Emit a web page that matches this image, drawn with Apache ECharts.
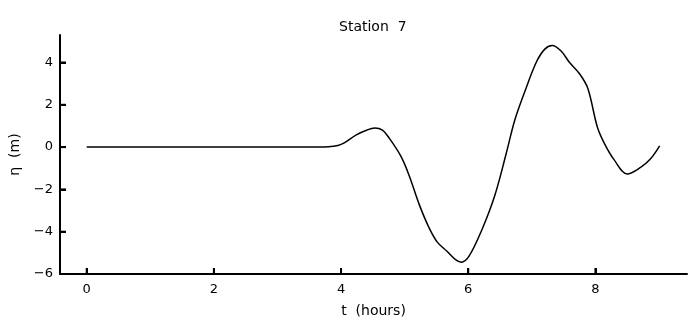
<!DOCTYPE html>
<html>
<head>
<meta charset="utf-8">
<script src="https://cdn.jsdelivr.net/npm/echarts@6/dist/echarts.min.js"></script>
<style>
    html, body { margin: 0; padding: 0; background: #fff; }
    #chart { width: 693px; height: 323px; }
</style>
</head>
<body>
<div id="chart"></div>
<script>
// time (hours) and elevation (m)
const tHours = [0, 1, 2, 3, 3.5, 3.8, 3.95, 4.05, 4.24, 4.4, 4.53, 4.65, 4.76, 4.94, 5.07, 5.23, 5.38, 5.51, 5.67, 5.8, 5.89, 6.01, 6.21, 6.42, 6.6, 6.73, 6.89, 7.07, 7.2, 7.32, 7.46, 7.59, 7.75, 7.88, 8.03, 8.14, 8.29, 8.5, 8.71, 8.86, 9.01]
const eta = [0, 0, 0, 0, 0, 0.02, 0.08, 0.2, 0.58, 0.8, 0.9, 0.8, 0.41, -0.43, -1.34, -2.72, -3.79, -4.48, -4.94, -5.32, -5.44, -5.17, -3.94, -2.26, -0.27, 1.26, 2.63, 4.01, 4.62, 4.8, 4.54, 4.01, 3.47, 2.78, 0.95, 0.18, -0.58, -1.27, -0.96, -0.58, 0.06]
const xTicks = [0, 2, 4, 6, 8]
const yTicks = [-6, -4, -2, 0, 2, 4]
const xRange = [-0.42, 9.44]
const yRange = [-6, 5.3]

const font = 'DejaVu Sans'
const ink = '#000'
const minus = v => String(v).replace('-', '\u2212')

const myChart = echarts.init(document.getElementById('chart'))

myChart.setOption({
    backgroundColor: '#fff',
    animation: false,
    title: {
        text: 'Station  7',
        left: 334,
        top: 15,
        textStyle: { fontFamily: font, fontSize: 14, fontWeight: 'normal', color: ink }
    },
    grid: { left: 54, right: 6, top: 35, bottom: 42 },
    xAxis: {
        type: 'value',
        min: xRange[0],
        max: xRange[1],
        name: 't  (hours)',
        nameLocation: 'middle',
        nameGap: 30,
        nameTextStyle: { fontFamily: font, fontSize: 14, color: ink },
        splitLine: { show: false },
        axisLine: { show: true, onZero: false, lineStyle: { color: ink, width: 2 } },
        axisTick: { show: true, inside: true, length: 6, customValues: xTicks, lineStyle: { color: ink, width: 2 } },
        axisLabel: { customValues: xTicks, margin: 9, fontFamily: font, fontSize: 13, color: ink, formatter: minus }
    },
    yAxis: {
        type: 'value',
        min: yRange[0],
        max: yRange[1],
        name: '\u03b7  (m)',
        nameLocation: 'middle',
        nameGap: 38,
        nameRotate: 90,
        nameTextStyle: { fontFamily: font, fontSize: 14, color: ink },
        splitLine: { show: false },
        axisLine: { show: true, onZero: false, lineStyle: { color: ink, width: 2 } },
        axisTick: { show: true, inside: true, length: 6, customValues: yTicks, lineStyle: { color: ink, width: 2 } },
        axisLabel: { customValues: yTicks, margin: 7, fontFamily: font, fontSize: 13, color: ink, formatter: minus }
    },
    series: [
        {
            type: 'line',
            data: tHours.map((t, i) => [t, eta[i]]),
            smooth: 0.35,
            showSymbol: false,
            lineStyle: { color: ink, width: 1.5 }
        }
    ]
})

// inward tick marks, placed through the chart's own scales
const tickLen = 6
const ticks = []
const toPx = pt => myChart.convertToPixel({ xAxisIndex: 0, yAxisIndex: 0 }, pt)
xTicks.forEach(t => {
    const p = toPx([t, yRange[0]])
    ticks.push({ type: 'line', z: 100, shape: { x1: p[0], y1: p[1], x2: p[0], y2: p[1] - tickLen }, style: { stroke: ink, lineWidth: 2 }, silent: true })
})
yTicks.forEach(v => {
    const p = toPx([xRange[0], v])
    ticks.push({ type: 'line', z: 100, shape: { x1: p[0], y1: p[1], x2: p[0] + tickLen, y2: p[1] }, style: { stroke: ink, lineWidth: 2 }, silent: true })
})
myChart.setOption({ graphic: ticks })
</script>
</body>
</html>
